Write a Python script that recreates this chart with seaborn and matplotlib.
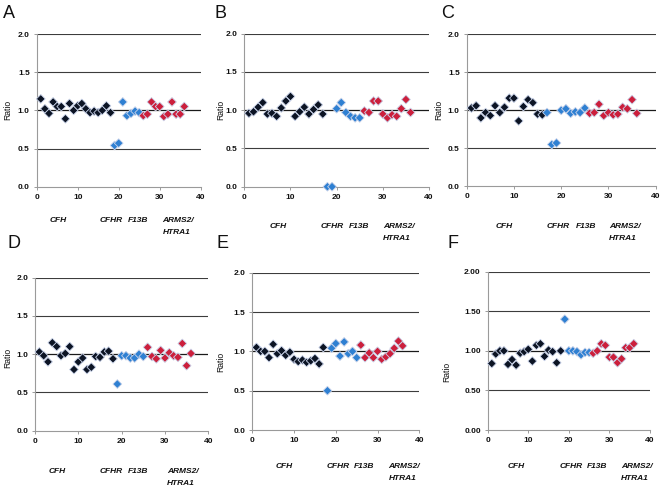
import matplotlib
matplotlib.use("Agg")
import matplotlib.pyplot as plt
import matplotlib.transforms as mtransforms
import seaborn as sns
import pandas as pd
import numpy as np

sns.set_theme(style="white")
plt.rcParams["font.family"] = ["Liberation Sans", "DejaVu Sans"]

# ---------------- data ----------------
positions = list(range(1, 37))
panel_letters = ["A", "B", "C", "D", "E", "F"]

ratio_A = [1.15, 1.02, 0.96, 1.11, 1.05, 1.05, 0.89, 1.09, 1.00, 1.06, 1.09, 1.02,
           0.97, 0.99, 0.97, 1.00, 1.06, 0.97, 0.54, 0.57, 1.11, 0.93, 0.96, 0.99,
           0.97, 0.93, 0.95, 1.11, 1.05, 1.05, 0.92, 0.95, 1.11, 0.95, 0.95, 1.05]
ratio_B = [0.96, 0.98, 1.04, 1.10, 0.95, 0.96, 0.92, 1.03, 1.12, 1.18, 0.92, 0.98,
           1.04, 0.95, 1.01, 1.07, 0.95, 0.00, 0.00, 1.02, 1.10, 0.97, 0.92, 0.90,
           0.90, 0.99, 0.97, 1.12, 1.12, 0.95, 0.90, 0.94, 0.92, 1.02, 1.14, 0.97]
ratio_C = [1.03, 1.06, 0.90, 0.97, 0.93, 1.06, 0.97, 1.04, 1.16, 1.16, 0.86, 1.05,
           1.14, 1.10, 0.95, 0.94, 0.97, 0.55, 0.57, 1.00, 1.02, 0.96, 0.98, 0.97,
           1.03, 0.96, 0.97, 1.08, 0.93, 0.97, 0.94, 0.95, 1.04, 1.02, 1.14, 0.96]
ratio_D = [1.03, 0.98, 0.90, 1.15, 1.10, 0.98, 1.01, 1.10, 0.80, 0.90, 0.95, 0.80,
           0.83, 0.97, 0.96, 1.03, 1.04, 0.94, 0.61, 0.98, 0.98, 0.95, 0.95, 1.00,
           0.97, 1.09, 0.97, 0.94, 1.05, 0.95, 1.02, 0.98, 0.96, 1.14, 0.85, 1.01]
ratio_E = [1.05, 1.00, 1.00, 0.92, 1.09, 0.97, 1.01, 0.95, 0.99, 0.90, 0.87, 0.89,
           0.86, 0.88, 0.91, 0.84, 1.05, 0.50, 1.04, 1.10, 0.94, 1.12, 0.97, 1.00,
           0.92, 1.08, 0.92, 0.98, 0.92, 1.00, 0.90, 0.93, 0.97, 1.04, 1.13, 1.07]
ratio_F = [0.84, 0.96, 1.00, 1.00, 0.83, 0.89, 0.82, 0.97, 0.99, 1.02, 0.87, 1.07,
           1.09, 0.93, 1.01, 0.99, 0.85, 1.00, 1.40, 1.00, 1.00, 0.99, 0.95, 0.98,
           0.98, 0.97, 1.00, 1.09, 1.07, 0.92, 0.92, 0.85, 0.90, 1.04, 1.04, 1.09]

# number of leading CFH probes (black), then CFHR/F13B (blue) up to 25, then ARMS2/HTRA1 (red)
n_cfh = [18, 17, 16, 18, 17, 18]
last_blue = 25

group_names = ["CFH", "CFHR/F13B", "ARMS2/HTRA1"]
group_colors = ["#0c1424", "#2f80d2", "#cc1f3c"]

y_ticks = [0.0, 0.5, 1.0, 1.5, 2.0]
x_ticks = [0, 10, 20, 30, 40]
y_fmt = ["{:.1f}", "{:.1f}", "{:.1f}", "{:.1f}", "{:.1f}", "{:.2f}"]

ratios = [ratio_A, ratio_B, ratio_C, ratio_D, ratio_E, ratio_F]

# ---------------- layout (pixels in a 662x490 canvas) ----------------
W, H = 662, 490
axes_px = [  # x0, x1, ytop, ybot
    (36.7, 200.7, 34.0, 186.7),
    (244.3, 429.0, 33.7, 186.7),
    (466.7, 655.7, 34.3, 186.3),
    (35.0, 208.3, 277.7, 430.7),
    (252.3, 419.3, 272.7, 430.0),
    (487.7, 650.0, 271.7, 430.0),
]
letter_px = [(9, 13), (220, 13), (448, 13), (14, 243), (222, 243), (453, 243)]
ratio_px = [(8, 110), (220.5, 110), (439, 110), (8, 358), (221, 362), (447, 372)]
# gene label x positions (data units) and offsets below the axis (px)
cfh_x = [5.2, 7.4, 8.0, 5.0, 7.6, 7.1]
cfhr_x = [15.4, 16.6, 17.0, 15.0, 17.8, 17.6]
f13b_x = [27.2, 27.0, 27.5, 26.2, 29.2, 29.5]
arms_x = [30.7, 30.0, 30.1, 30.4, 32.6, 32.8]
lab_off = [(34, 46), (40, 52), (40, 52.7), (41, 53), (36.3, 48.3), (36, 48)]

fig = plt.figure(figsize=(W / 100, H / 100), dpi=100)
fig.patch.set_facecolor("white")

for i, letter in enumerate(panel_letters):
    x0, x1, yt, yb = axes_px[i]
    ax = fig.add_axes([x0 / W, 1 - yb / H, (x1 - x0) / W, (yb - yt) / H])
    ax.set_facecolor("white")

    grp = []
    for p in positions:
        if p <= n_cfh[i]:
            grp.append(group_names[0])
        elif p <= last_blue:
            grp.append(group_names[1])
        else:
            grp.append(group_names[2])
    df = pd.DataFrame({"pos": positions, "ratio": ratios[i], "group": grp})

    # horizontal grid lines
    for yv in y_ticks[1:]:
        ax.axhline(yv, color="#1a1a1a" if yv == 1.0 else "#3c3c3c",
                   lw=0.9 if yv == 1.0 else 0.8, zorder=1)

    sns.scatterplot(data=df, x="pos", y="ratio", hue="group",
                    hue_order=group_names, palette=group_colors,
                    marker="D", s=20, edgecolor="#c9d3ea", linewidth=0.6,
                    legend=False, ax=ax, zorder=3, clip_on=False)

    ax.set_xlim(0, 40)
    ax.set_ylim(0, 2.0)
    ax.set_xticks(x_ticks)
    ax.set_xticklabels([str(t) for t in x_ticks], fontsize=6, fontweight="bold")
    ax.set_yticks(y_ticks)
    ax.set_yticklabels([y_fmt[i].format(t) for t in y_ticks], fontsize=6,
                       fontweight="bold")
    ax.tick_params(axis="both", which="major", length=2.5, width=0.6,
                   color="#8c8c8c", pad=2.5, direction="out",
                   bottom=True, left=True, labelcolor="#111111")
    ax.set_xlabel("")
    ax.set_ylabel("")
    for s in ["top", "right"]:
        ax.spines[s].set_visible(False)
    for s in ["left", "bottom"]:
        ax.spines[s].set_color("#9a9a9a")
        ax.spines[s].set_linewidth(0.8)

    # gene region labels under the axis
    h_ax = yb - yt
    trans = mtransforms.blended_transform_factory(ax.transData, ax.transAxes)
    o1, o2 = lab_off[i]
    kw = dict(fontsize=6, fontweight="bold", fontstyle="italic",
              transform=trans, va="center", color="#111111")
    ax.text(cfh_x[i], -o1 / h_ax, "CFH", ha="center", **kw)
    ax.text(cfhr_x[i], -o1 / h_ax, "CFHR", ha="left", **kw)
    ax.text(f13b_x[i], -o1 / h_ax, "F13B", ha="right", **kw)
    ax.text(arms_x[i], -o1 / h_ax, "ARMS2/", ha="left", **kw)
    ax.text(arms_x[i], -o2 / h_ax, "HTRA1", ha="left", **kw)

    # panel letter and y label
    lx, ly = letter_px[i]
    fig.text(lx / W, 1 - ly / H, letter, fontsize=13, ha="center",
             va="center", color="#111111")
    rx, ry = ratio_px[i]
    fig.text(rx / W, 1 - ry / H, "Ratio", fontsize=6.2, rotation=90,
             ha="center", va="center", color="#111111")

fig.savefig("out.png", dpi=100, facecolor="white")
